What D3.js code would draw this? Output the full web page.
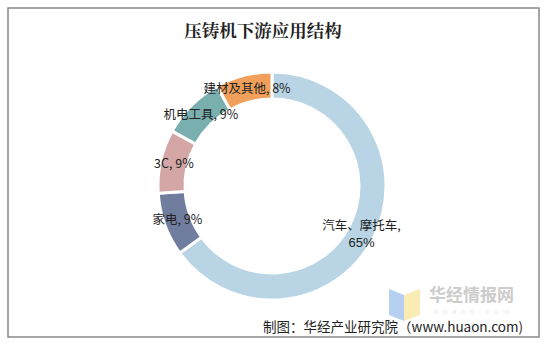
<!DOCTYPE html>
<html><head><meta charset="utf-8">
<script src="https://cdn.jsdelivr.net/npm/d3@7/dist/d3.min.js"></script>
<style>body{margin:0;background:#fff}svg{display:block}</style>
</head><body>
<svg id="c" width="546" height="345"></svg>
<script>
const categories = ["汽车、摩托车", "家电", "3C", "机电工具", "建材及其他"];
const values = [65, 9, 9, 9, 8];
const colors = ["#b8d4e5", "#717d9f", "#d4a6a6", "#79afaf", "#f0a05b"];
const title = "压铸机下游应用结构";
const source = "制图：华经产业研究院（www.huaon.com)";

const svg = d3.select("#c");
svg.append("rect").attr("x", 8).attr("y", 8).attr("width", 531).attr("height", 329)
  .attr("fill", "#fff").attr("stroke", "#888").attr("stroke-width", 1.5);

svg.append("text").attr("x", 263).attr("y", 37).attr("text-anchor", "middle")
  .attr("font-family", "'Noto Serif CJK SC', 'Noto Sans CJK SC', serif").attr("font-weight", "bold")
  .attr("font-size", 17.5).attr("fill", "#222").text(title);

const cx = 272, cy = 186, rOut = 114, rIn = 87;
const data = categories.map((c, i) => ({ cat: c, val: values[i], color: colors[i] }));
const pie = d3.pie().value(d => d.val).sort(null);
const arc = d3.arc().innerRadius(rIn).outerRadius(rOut);
const g = svg.append("g").attr("transform", `translate(${cx},${cy})`);
const arcs = pie(data);
g.selectAll("path").data(arcs).join("path")
  .attr("d", arc).attr("fill", d => d.data.color)
  .attr("stroke", "#fff").attr("stroke-width", 3);

const font = "'Noto Sans CJK SC', sans-serif";
arcs.forEach((d, i) => {
  const [x, y] = arc.centroid(d);
  if (i === 0) {
    g.append("text").attr("x", x).attr("y", y - 2).attr("text-anchor", "middle")
      .attr("font-family", font).attr("font-size", 12.5).attr("fill", "#222").text(d.data.cat + ",");
    g.append("text").attr("x", x).attr("y", y + 15).attr("text-anchor", "middle")
      .attr("font-family", "Arial, 'Liberation Sans', sans-serif").attr("font-size", 13).attr("fill", "#222").text(d.data.val + "%");
  } else {
    g.append("text").attr("x", x).attr("y", y).attr("dy", "0.35em").attr("text-anchor", "middle")
      .attr("font-family", font).attr("font-size", 12.5).attr("fill", "#222")
      .text(d.data.cat + ", " + d.data.val + "%");
  }
});

// watermark logo
const wm = svg.append("g").attr("opacity", 0.85);
wm.append("path").attr("d", "M389,289 L404,295 L404,321 L389,315 Z").attr("fill", "#a9c8ef");
wm.append("path").attr("d", "M404,295 L420,289 L420,315 L404,321 Z").attr("fill", "#fbe9a8");
wm.append("text").attr("x", 429).attr("y", 301).attr("font-family", font)
  .attr("font-weight", "bold").attr("font-size", 17).attr("fill", "#c4c4c4").text("华经情报网");
wm.append("text").attr("x", 434).attr("y", 313.5).attr("font-family", "Arial, 'Liberation Sans', sans-serif")
  .attr("font-size", 8).attr("letter-spacing", 4.5).attr("fill", "#e6e6e6").text("huaon.com");

svg.append("text").attr("x", 523).attr("y", 331.5).attr("text-anchor", "end")
  .attr("font-family", font).attr("font-size", 13.5)
  .attr("fill", "#222").text(source);
</script>
</body></html>
